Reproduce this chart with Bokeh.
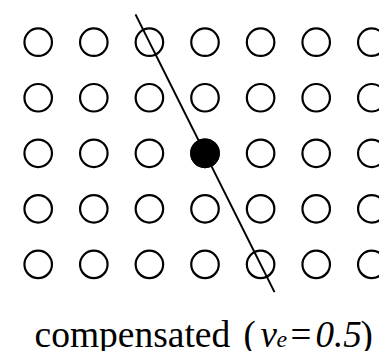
from bokeh.plotting import figure
from bokeh.models import Range1d, ColumnDataSource
from bokeh.core.properties import value
from bokeh.embed import file_html
from bokeh.resources import INLINE

# ---- data ----
cols = [0, 1, 2, 3, 4, 5, 6]
rows = [0, 1, 2, 3, 4]
filled_col = [3]
filled_row = [2]
line_cols = [1.75, 4.25]
line_rows = [-0.5, 4.5]
caption_parts = ["compensated", "(", "v", "e", "=", "0.5", ")"]

# ---- layout (page pixel geometry; Bokeh's page has no body margin) ----
W, H = 379, 351
ORG = 0
X0, DX = 37.7, 55.6
Y0, DY = 41.7, 55.55

def px_to_col(px):
    return (px - X0) / DX

def py_to_row(py):
    return (py - Y0) / DY

p = figure(width=W, height=H, output_backend="svg", toolbar_location=None,
           min_border=0, min_border_left=0, min_border_right=0,
           min_border_top=0, min_border_bottom=0,
           x_range=Range1d(px_to_col(ORG), px_to_col(ORG + W)),
           y_range=Range1d(py_to_row(ORG + H), py_to_row(ORG)))
p.axis.visible = False
p.xgrid.visible = False
p.ygrid.visible = False
p.outline_line_color = None
p.background_fill_color = "white"
p.border_fill_color = "white"

gx = [c for r in rows for c in cols]
gy = [r for r in rows for c in cols]
src = ColumnDataSource(dict(x=gx, y=gy))
p.scatter("x", "y", source=src, marker="circle", size=27.5,
          fill_color="white", line_color="black", line_width=2.2)

p.line(line_cols, line_rows, line_color="black", line_width=2)

p.scatter(filled_col, filled_row, marker="circle", size=27.5,
          fill_color="black", line_color="black", line_width=2.2)

# caption pieces: (left px, baseline px, size, style)
SHIFT = -9
piece_style = [
    (34, 342.5, "37.5px", "normal"),
    (243, 342.5, "37px", "normal"),
    (260, 342.5, "37px", "italic"),
    (276, 348, "24px", "italic"),
    (290, 342.5, "37px", "normal"),
    (315, 342.5, "37px", "italic"),
    (360, 342.5, "37px", "normal"),
]
for txt, (lx, by, fs, st) in zip(caption_parts, piece_style):
    p.text(x=[px_to_col(lx)], y=[py_to_row(by + SHIFT)], text=[txt],
           text_font=value("Liberation Serif"), text_font_size=fs,
           text_font_style=st, text_align="left",
           text_baseline="alphabetic", text_color="black")

open("out.html", "w").write(file_html(p, INLINE))
